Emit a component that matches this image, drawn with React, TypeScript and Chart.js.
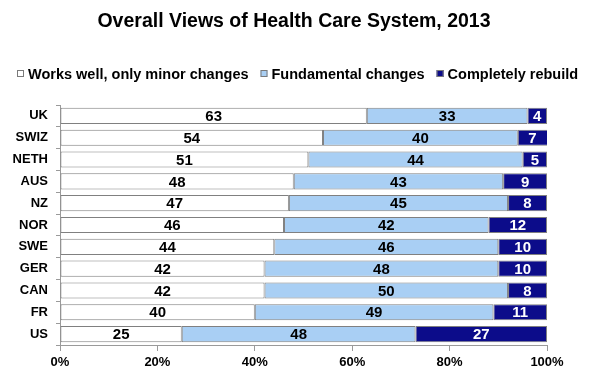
import React, { useEffect, useRef } from "react";
import { Chart, registerables } from "chart.js";

Chart.register(...registerables);

const categories = ["UK", "SWIZ", "NETH", "AUS", "NZ", "NOR", "SWE", "GER", "CAN", "FR", "US"];
const worksWell = [63, 54, 51, 48, 47, 46, 44, 42, 42, 40, 25];
const fundamental = [33, 40, 44, 43, 45, 42, 46, 48, 50, 49, 48];
const rebuild = [4, 7, 5, 9, 8, 12, 10, 10, 8, 11, 27];
const seriesNames = ["Works well, only minor changes", "Fundamental changes", "Completely rebuild"];
const titleText = "Overall Views of Health Care System, 2013";

const FILLS = ["#ffffff", "#a9cff4", "#0c0c8a"];
const LABEL_COLORS = ["#000000", "#000000", "#ffffff"];
const FONT = "Arial, 'Liberation Sans', sans-serif";

const valueLabels = {
  id: "valueLabels",
  afterDatasetsDraw(chart: any) {
    const ctx = chart.ctx;
    ctx.save();
    ctx.font = `bold 15px ${FONT}`;
    ctx.textAlign = "center";
    ctx.textBaseline = "middle";
    chart.data.datasets.forEach((ds: any, di: number) => {
      const meta = chart.getDatasetMeta(di);
      meta.data.forEach((el: any, i: number) => {
        const right = Math.min(el.x, chart.chartArea.right);
        const cx = (right + el.base) / 2;
        ctx.fillStyle = LABEL_COLORS[di];
        ctx.fillText(String(ds.data[i]), cx, el.y + 1);
      });
    });
    ctx.restore();
  },
};

const titleAndLegend = {
  id: "titleAndLegend",
  afterDraw(chart: any) {
    const ctx = chart.ctx;
    ctx.save();
    // title
    ctx.font = `bold 19.5px ${FONT}`;
    ctx.textAlign = "center";
    ctx.textBaseline = "middle";
    ctx.fillStyle = "#000000";
    ctx.fillText(titleText, 294, 22);
    // legend
    ctx.font = `bold 14.5px ${FONT}`;
    ctx.textBaseline = "middle";
    ctx.textAlign = "left";
    const y = 75;
    let x = 17;
    seriesNames.forEach((name, i) => {
      ctx.fillStyle = FILLS[i];
      ctx.fillRect(x, y - 5, 7, 7);
      ctx.strokeStyle = "#7a7a7a";
      ctx.lineWidth = 1;
      ctx.strokeRect(x + 0.5, y - 4.5, 6, 6);
      ctx.fillStyle = "#000000";
      const tx = x + 11;
      ctx.fillText(name, tx, y);
      const w = ctx.measureText(name).width;
      x = tx + w + 12;
    });
    ctx.restore();
  },
};

export default function App() {
  const ref = useRef<HTMLCanvasElement>(null);
  useEffect(() => {
    document.body.style.margin = "0";
    const chart = new Chart(ref.current as HTMLCanvasElement, {
      type: "bar",
      data: {
        labels: categories,
        datasets: [worksWell, fundamental, rebuild].map((d, i) => ({
          label: seriesNames[i],
          data: d,
          backgroundColor: FILLS[i],
          borderColor: "#808080",
          borderWidth: 1,
          borderSkipped: false,
          categoryPercentage: 1,
          barPercentage: 0.74,
        })),
      },
      plugins: [valueLabels, titleAndLegend],
      options: {
        indexAxis: "y",
        responsive: false,
        animation: false,
        layout: { padding: { left: 0, right: 52, top: 105, bottom: 0 } },
        plugins: {
          legend: { display: false },
          tooltip: { enabled: false },
          title: { display: false },
        },
        scales: {
          x: {
            stacked: true,
            min: 0,
            max: 100,
            ticks: {
              stepSize: 20,
              callback: (v: any) => v + "%",
              color: "#000000",
              font: { family: FONT, size: 13, weight: "bold" },
              padding: 4,
            },
            grid: { drawOnChartArea: false, drawTicks: true, tickLength: 6, color: "#9a9a9a" },
            border: { display: true, color: "#9a9a9a" },
            afterFit: (s: any) => {
              s.height = 33;
            },
          },
          y: {
            stacked: true,
            ticks: {
              color: "#000000",
              font: { family: FONT, size: 13, weight: "bold" },
              padding: 8,
            },
            grid: { drawOnChartArea: false, drawTicks: true, tickLength: 4, offset: true, color: "#9a9a9a" },
            border: { display: true, color: "#9a9a9a" },
            afterFit: (s: any) => {
              s.width = 60;
            },
          },
        },
      },
    } as any);
    return () => chart.destroy();
  }, []);
  return (
    <div style={{ width: 599, height: 378, background: "#ffffff" }}>
      <canvas ref={ref} width={599} height={378} />
    </div>
  );
}
